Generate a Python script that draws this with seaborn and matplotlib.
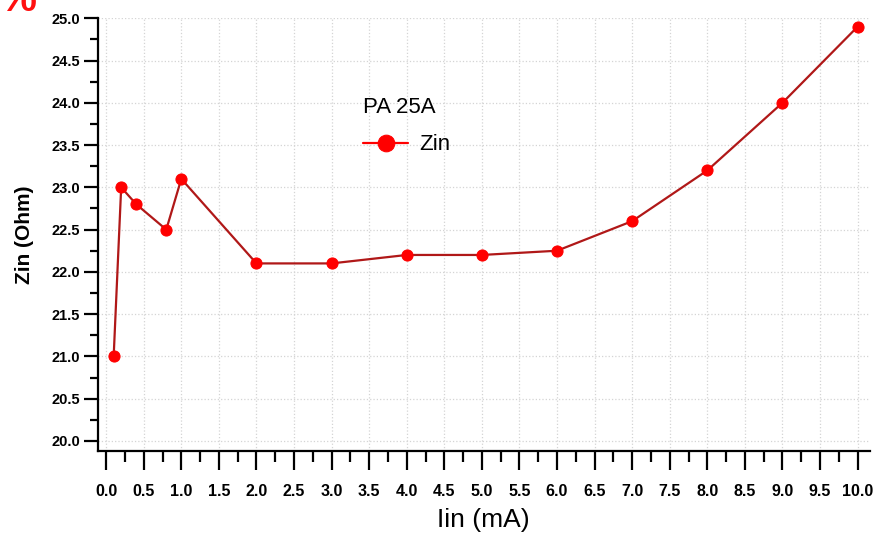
import numpy as np
import pandas as pd
import seaborn as sns
import matplotlib.pyplot as plt
from matplotlib.ticker import MultipleLocator

# data
iin_ma = [0.1, 0.2, 0.4, 0.8, 1.0, 2.0, 3.0, 4.0, 5.0, 6.0, 7.0, 8.0, 9.0, 10.0]
zin_ohm = [21.0, 23.0, 22.8, 22.5, 23.1, 22.1, 22.1, 22.2, 22.2, 22.25, 22.6, 23.2, 24.0, 24.9]
series_name = "Zin"
legend_title = "PA 25A"

df = pd.DataFrame({"Iin": iin_ma, "Zin": zin_ohm, "series": series_name})

sns.set_style("white")
narrow = ["Liberation Sans Narrow", "Liberation Sans", "DejaVu Sans"]
plt.rcParams["font.family"] = narrow
plt.rcParams["text.color"] = "black"
plt.rcParams["axes.labelcolor"] = "black"
plt.rcParams["xtick.color"] = "black"
plt.rcParams["ytick.color"] = "black"

fig = plt.figure(figsize=(8.74, 5.37), dpi=100)
ax = fig.add_axes([0.112, 0.160, 0.883, 0.806])

sns.lineplot(data=df, x="Iin", y="Zin", hue="series", palette=["#b01818"],
             marker="o", markersize=8, markerfacecolor="#ff0000",
             markeredgecolor="#ff0000", linewidth=1.6, ax=ax)

ax.set_xlim(-0.11, 10.16)
ax.set_ylim(19.88, 25.0)

ax.xaxis.set_major_locator(MultipleLocator(0.5))
ax.xaxis.set_minor_locator(MultipleLocator(0.25))
ax.yaxis.set_major_locator(MultipleLocator(0.5))
ax.yaxis.set_minor_locator(MultipleLocator(0.25))
ax.xaxis.set_major_formatter(plt.FormatStrFormatter("%.1f"))
ax.yaxis.set_major_formatter(plt.FormatStrFormatter("%.1f"))

ax.grid(True, which="major", color="#d4d4d4", linestyle=":", linewidth=0.9)

for s in ["top", "right"]:
    ax.spines[s].set_visible(False)
for s in ["left", "bottom"]:
    ax.spines[s].set_linewidth(1.6)
    ax.spines[s].set_color("black")

ax.tick_params(axis="x", which="both", bottom=True)
ax.tick_params(axis="y", which="both", left=True)
ax.tick_params(axis="x", which="major", direction="out", length=14, width=1.6,
               labelsize=11.5, pad=10)
ax.tick_params(axis="x", which="minor", direction="out", length=8, width=1.6)
ax.tick_params(axis="y", which="major", direction="out", length=10, width=1.6,
               labelsize=10.5, pad=3)
ax.tick_params(axis="y", which="minor", direction="out", length=6, width=1.6)
for lab in ax.get_xticklabels() + ax.get_yticklabels():
    lab.set_fontweight("bold")

ax.set_xlabel("Iin (mA)", fontsize=19, labelpad=6)
ax.set_ylabel("Zin (Ohm)", fontsize=15, fontweight="bold",
              family=["Liberation Sans", "DejaVu Sans"], labelpad=12)

leg = ax.legend(title=legend_title, loc="upper left", bbox_to_anchor=(0.318, 0.865),
                frameon=False, fontsize=16, title_fontsize=16, handlelength=2.0,
                handletextpad=0.5, labelspacing=0.2, markerscale=1.5)
leg._legend_box.align = "left"
leg._legend_box.sep = 12
for h in leg.legend_handles:
    h.set_color("#ff0000")
    h.set_markerfacecolor("#ff0000")

fig.text(0.0, 1.0, "%", color="#ff1010", fontsize=30, fontweight="bold",
         ha="left", va="center", family=["Liberation Sans", "DejaVu Sans"])

fig.savefig("out.png", dpi=100)
